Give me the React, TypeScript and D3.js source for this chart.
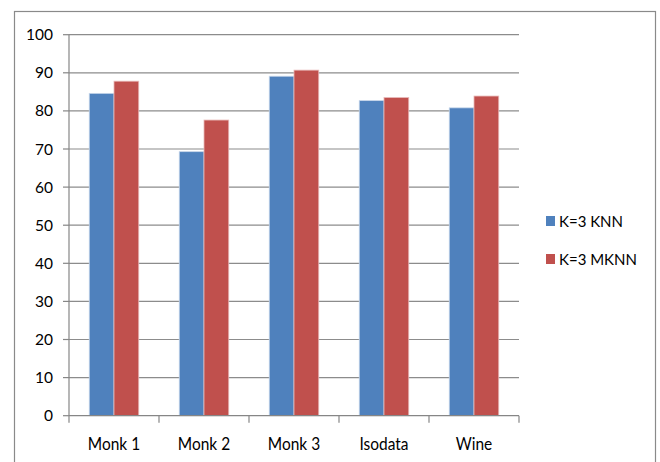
import * as d3 from "d3";

const width = 660;
const height = 462;

const categories = ["Monk 1", "Monk 2", "Monk 3", "Isodata", "Wine"];
const seriesNames = ["K=3 KNN", "K=3 MKNN"];
const knn = [84.6, 69.3, 89.1, 82.7, 80.8];
const mknn = [87.8, 77.6, 90.7, 83.5, 83.9];
const yTicks = [0, 10, 20, 30, 40, 50, 60, 70, 80, 90, 100];

const colors = ["#4F81BD", "#C0504D"];
const edges = ["#c6d6ea", "#e8b9b8"];
const font = "Lato, 'Open Sans', sans-serif";

const margin = { top: 34.7, right: 141, bottom: 46.3, left: 69 };

export default function App() {
  const series = [knn, mknn];

  const x = d3
    .scaleBand()
    .domain(categories)
    .range([margin.left, width - margin.right])
    .paddingInner(0.45)
    .paddingOuter(0.225);

  const xSub = d3
    .scaleBand()
    .domain(seriesNames)
    .range([0, x.bandwidth()]);

  const y = d3
    .scaleLinear()
    .domain([0, 100])
    .range([height - margin.bottom, margin.top]);

  const step = (width - margin.right - margin.left) / categories.length;
  const bounds = d3.range(categories.length + 1).map((i) => margin.left + i * step);

  return (
    <svg
      width={width}
      height={height}
      style={{ position: "absolute", left: 0, top: 0, background: "white", fontFamily: font }}
    >
      {/* chart frame */}
      <rect x={14.5} y={11.5} width={641} height={470} fill="white" stroke="#8a8a8a" strokeWidth={1.2} />

      {/* gridlines */}
      {yTicks.slice(1).map((t) => (
        <line
          key={t}
          x1={margin.left}
          x2={width - margin.right}
          y1={y(t)}
          y2={y(t)}
          stroke="#8c8c8c"
          strokeWidth={1.2}
        />
      ))}

      {/* bars */}
      {categories.map((c, i) => (
        <g key={c} transform={`translate(${x(c)},0)`}>
          {series.map((s, j) => (
            <rect
              key={seriesNames[j]}
              x={xSub(seriesNames[j])}
              y={y(s[i])}
              width={xSub.bandwidth()}
              height={y(0) - y(s[i])}
              fill={colors[j]}
              stroke={edges[j]}
              strokeWidth={0.8}
            />
          ))}
        </g>
      ))}

      {/* y axis */}
      <line x1={margin.left} x2={margin.left} y1={y(100)} y2={y(0)} stroke="#868686" strokeWidth={1.2} />
      {yTicks.map((t) => (
        <g key={t}>
          <line x1={margin.left - 6} x2={margin.left} y1={y(t)} y2={y(t)} stroke="#868686" strokeWidth={1.2} />
          <text
            x={margin.left - 16}
            y={y(t)}
            dy="0.36em"
            textAnchor="end"
            fontSize={15.5}
            fill="#000"
          >
            {t}
          </text>
        </g>
      ))}

      {/* x axis */}
      <line x1={margin.left} x2={width - margin.right} y1={y(0)} y2={y(0)} stroke="#868686" strokeWidth={1.2} />
      {bounds.map((b, i) => (
        <line key={i} x1={b} x2={b} y1={y(0)} y2={y(0) + 7} stroke="#868686" strokeWidth={1.2} />
      ))}
      {categories.map((c) => (
        <text
          key={c}
          transform={`translate(${x(c)! + x.bandwidth() / 2},450) scale(1,1.12)`}
          textAnchor="middle"
          fontSize={15.5}
          fill="#000"
        >
          {c}
        </text>
      ))}

      {/* legend */}
      {seriesNames.map((n, j) => (
        <g key={n} transform={`translate(546,${216 + j * 38})`}>
          <rect width={9} height={10} fill={colors[j]} />
          <text x={13} y={11} fontSize={15} fill="#000">
            {n}
          </text>
        </g>
      ))}
    </svg>
  );
}
